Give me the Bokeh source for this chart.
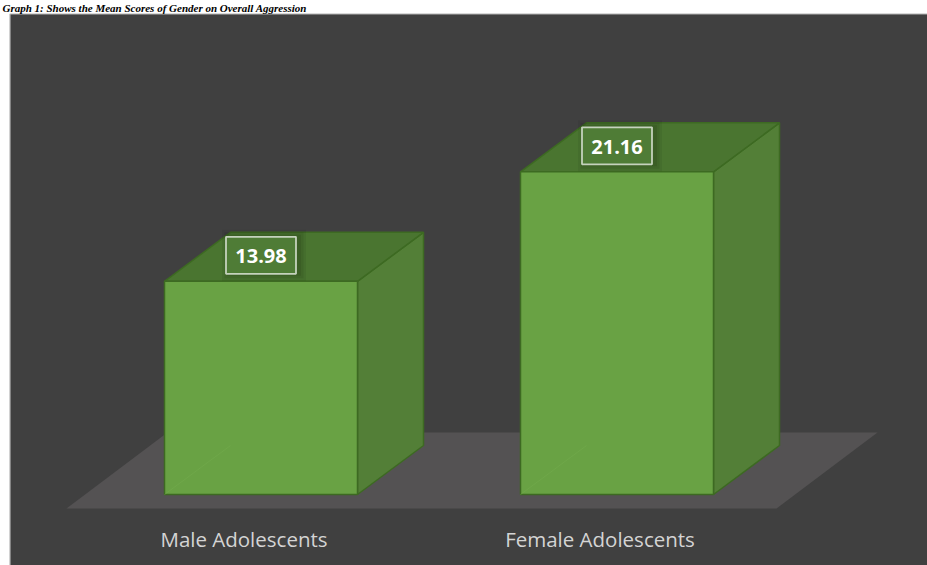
from bokeh.plotting import figure
from bokeh.models import Range1d
from bokeh.core.properties import value
from bokeh.embed import file_html
from bokeh.resources import INLINE

# ---- data ----
categories = ["Male Adolescents", "Female Adolescents"]
means = [13.98, 21.16]
mean_labels = ["13.98", "21.16"]
title_text = "Graph 1: Shows the Mean Scores of Gender on Overall Aggression"

# ---- layout (pixels) ----
W, H = 927, 565
PXU = 15.25          # pixels per unit of value
BASE = 494           # pixel row of value 0 (front bottom edge of bars)
X0, SPACING, HW = 260.5, 356, 96.5
DX, DYPX = 66, 49    # oblique depth offset
DY = DYPX / PXU


def vy(px):
    return (BASE - px) / PXU


p = figure(width=W, height=H, output_backend="svg", toolbar_location=None,
           x_range=Range1d(0, W), y_range=Range1d(vy(H), vy(0)),
           min_border=0, background_fill_color="white",
           border_fill_color="white", outline_line_color=None)
p.axis.visible = False
p.grid.visible = False

# panel
p.quad(left=9.5, right=W + 2, top=vy(13.5), bottom=vy(H + 2),
       fill_color="#404040", line_color="#b4b4b4", line_width=1.2)

# floor
p.patch(x=[66, 776, 877, 167], y=[vy(508), vy(508), vy(432), vy(432)],
        fill_color="#545253", line_color=None)

front_c, top_c, side_c, edge_c = "#69a244", "#4a7530", "#537f37", "#3d6a22"

for i, (cat, v, lab) in enumerate(zip(categories, means, mean_labels)):
    cx = X0 + i * SPACING
    l, r = cx - HW, cx + HW
    # side face
    p.patch(x=[r, r + DX, r + DX, r], y=[0, DY, v + DY, v],
            fill_color=side_c, line_color=edge_c, line_width=1.5)
    # top face
    p.patch(x=[l, r, r + DX, l + DX], y=[v, v, v + DY, v + DY],
            fill_color=top_c, line_color=edge_c, line_width=1.5)
    # front face
    p.quad(left=l, right=r, bottom=0, top=v,
           fill_color=front_c, line_color=edge_c, line_width=1.5)
    # faint hidden edge
    p.line(x=[l, l + DX], y=[0, DY], line_color="#74ab4e", line_width=1, line_alpha=0.5)

    ly = v + DY / 2 + 0.1
    # soft shadow
    for k, a in [(14, 0.06), (9, 0.07), (4, 0.08)]:
        p.rect(x=[cx + 3], y=[ly], width=70 + k, height=37 + k,
               width_units="screen", height_units="screen",
               fill_color="black", fill_alpha=a, line_color=None)
    p.rect(x=[cx], y=[ly], width=70, height=37,
           width_units="screen", height_units="screen",
           fill_color="#4f7c36", line_color="#c5d2bd", line_width=1.8)
    p.text(x=[cx], y=[ly], text=[lab], text_align="center",
           text_baseline="middle", text_color="white",
           text_font=value("Open Sans"), text_font_style="bold",
           text_font_size="20px", y_offset=1)

    # category label
    p.text(x=[cx - 17], y=[vy(538)], text=[cat], text_align="center",
           text_baseline="middle", text_color="#d4d4d4",
           text_font=value("Open Sans"), text_font_size="20.5px")

# caption in the thin white strip above the panel
p.text(x=[2], y=[vy(1)], text=[title_text], text_align="left",
       text_baseline="top", text_color="black",
       text_font=value("Liberation Serif"), text_font_style="bold italic",
       text_font_size="11px")

open("out.html", "w").write(file_html(p, INLINE))
